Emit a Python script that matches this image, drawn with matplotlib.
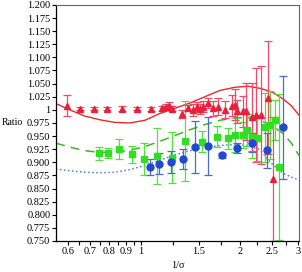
import numpy as np
import matplotlib
matplotlib.use("Agg")
import matplotlib.pyplot as plt
from matplotlib.ticker import FixedLocator, FuncFormatter, NullFormatter

plt.rcParams['font.family'] = ['Liberation Serif', 'DejaVu Serif']
plt.rcParams['mathtext.fontset'] = 'stix'

############################################################################################################
# data
############################################################################################################

red_x = [0.596, 0.652, 0.720, 0.788, 0.876, 0.972, 1.075, 1.158, 1.191, 1.216, 1.242, 1.332, 1.390,
         1.439, 1.480, 1.511, 1.543, 1.598, 1.655, 1.714, 1.800, 1.891, 1.931, 1.958, 2.042, 2.085,
         2.175, 2.236, 2.316, 2.432, 2.519]
red_y = [1.008, 1.002, 1.002, 1.002, 1.002, 1.002, 1.001, 1.003, 1.006, 1.008, 1.002, 0.992, 1.003,
         1.000, 1.006, 1.002, 1.006, 1.013, 1.003, 1.006, 1.000, 1.008, 1.010, 0.997, 0.997, 0.997,
         0.987, 0.990, 0.990, 1.023, 0.868]
red_err = [0.020, 0.003, 0.003, 0.003, 0.005, 0.003, 0.004, 0.005, 0.006, 0.006, 0.005, 0.008, 0.006,
           0.011, 0.008, 0.010, 0.010, 0.010, 0.014, 0.016, 0.016, 0.020, 0.030, 0.022, 0.029, 0.055,
           0.065, 0.090, 0.093, 0.108, 0.118]

green_x = [0.745, 0.794, 0.857, 0.939, 1.021, 1.118, 1.242, 1.361, 1.532, 1.702, 1.839, 1.931, 2.042,
           2.100, 2.175, 2.252, 2.382, 2.467, 2.555, 2.627]
green_y = [0.917, 0.918, 0.926, 0.915, 0.906, 0.912, 0.909, 0.940, 0.939, 0.949, 0.946, 0.952, 0.952,
           0.962, 0.948, 0.946, 0.967, 0.971, 0.981, 0.891]
green_err = [0.013, 0.010, 0.019, 0.016, 0.031, 0.054, 0.048, 0.076, 0.020, 0.020, 0.020, 0.033, 0.025,
             0.030, 0.040, 0.044, 0.066, 0.064, 0.038, 0.140]

blue_x = [1.065, 1.134, 1.234, 1.342, 1.459, 1.598, 1.763, 1.958, 2.175, 2.415, 2.702]
blue_y = [0.891, 0.897, 0.901, 0.906, 0.929, 0.931, 0.913, 0.927, 0.937, 0.923, 0.967]
blue_err = [0.015, 0.020, 0.021, 0.019, 0.050, 0.056, 0.004, 0.010, 0.018, 0.033, 0.098]

# fitted curves
curve_x = [0.552, 0.608, 0.676, 0.751, 0.834, 0.926, 1.028, 1.142, 1.268, 1.409, 1.565, 1.738, 1.931,
           2.115, 2.300, 2.50, 2.70, 2.86, 3.02]
red_curve = [1.012, 1.000, 0.988, 0.981, 0.976, 0.975, 0.980, 0.993, 1.003, 1.013, 1.025, 1.037, 1.043,
             1.045, 1.041, 1.034, 1.021, 1.008, 0.990]
green_curve = [0.9365, 0.929, 0.922, 0.919, 0.919, 0.923, 0.930, 0.940, 0.951, 0.962, 0.972, 0.980,
               0.985, 0.985, 0.980, 0.970, 0.955, 0.937, 0.913]
blue_curve = [0.887, 0.884, 0.881, 0.880, 0.881, 0.886, 0.894, 0.904, 0.914, 0.922, 0.928, 0.932, 0.934,
              0.932, 0.924, 0.897, 0.879, 0.872, 0.866]

x_ticks = [0.6, 0.7, 0.8, 0.9, 1, 1.5, 2, 2.5, 3]
x_minor = [0.55, 0.65, 0.75, 0.85, 0.95, 1.25, 1.75, 2.25, 2.75]
y_ticks = np.arange(0.750, 1.2001, 0.025)


############################################################################################################

def yfmt(v, pos):
    if abs(v - 1.0) < 1e-9:
        return "1"
    return "%.3f" % v


def make_plot():
    fig = plt.figure(figsize=(3.02, 2.72), dpi=100, facecolor='w')
    ax = fig.add_axes([0.185, 0.114, 0.805, 0.868])

    ax.plot(curve_x, blue_curve, ':', color='#4a7fe0', lw=1.1)
    ax.plot(curve_x, green_curve, '--', color='#3cb82c', lw=1.1, dashes=(6, 4))
    ax.plot(curve_x, red_curve, '-', color='#e82a2a', lw=1.0)

    ax.errorbar(green_x, green_y, yerr=green_err, fmt='s', color='#2ee020', ms=3.8,
                ecolor='#55e040', elinewidth=0.9, capsize=3.2, capthick=0.9)
    ax.errorbar(blue_x, blue_y, yerr=blue_err, fmt='o', color='#2148d0', ms=5.0,
                ecolor='#4a6ad8', elinewidth=0.9, capsize=3.2, capthick=0.9)
    ax.errorbar(red_x, red_y, yerr=red_err, fmt='^', color='#e8203c', ms=4.2,
                ecolor='#f04a6a', elinewidth=0.9, capsize=3.2, capthick=0.9)

    ax.set_xscale('log')
    ax.set_xlim(0.552, 3.02)
    ax.set_ylim(0.750, 1.200)
    ax.xaxis.set_major_locator(FixedLocator(x_ticks))
    ax.xaxis.set_major_formatter(FuncFormatter(lambda v, p: "%g" % v))
    ax.xaxis.set_minor_locator(FixedLocator(x_minor))
    ax.xaxis.set_minor_formatter(NullFormatter())
    ax.yaxis.set_major_locator(FixedLocator(y_ticks))
    ax.yaxis.set_major_formatter(FuncFormatter(yfmt))

    ax.tick_params(axis='both', which='both', direction='out', labelsize=7.5, pad=1, width=0.8)
    ax.tick_params(axis='both', which='major', length=3)
    ax.tick_params(axis='x', which='minor', length=3)
    for side in ['top', 'right']:
        ax.spines[side].set_color('#666666')
        ax.spines[side].set_linewidth(0.8)
    for side in ['left', 'bottom']:
        ax.spines[side].set_linewidth(0.9)

    ax.set_ylabel("Ratio", rotation=0, fontsize=7, va='center', ha='center')
    ax.yaxis.set_label_coords(-0.178, 0.5)
    ax.set_xlabel("1/\u03c3", fontsize=7.5, labelpad=4)

    plt.savefig("out.png", dpi=100)
    plt.close(fig)


if __name__ == "__main__":
    make_plot()
